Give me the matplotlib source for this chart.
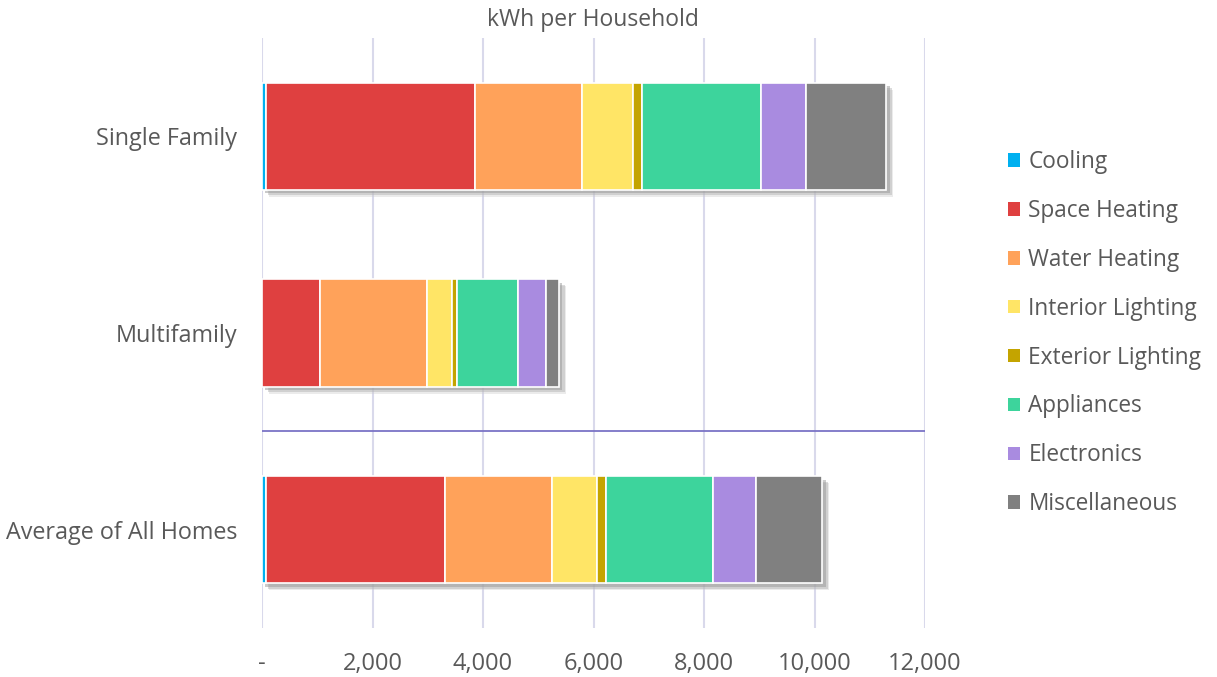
import numpy as np
import matplotlib.pyplot as plt
import matplotlib.patheffects as pe
from matplotlib.patches import Patch
from matplotlib.ticker import FuncFormatter

plt.rcParams['font.family'] = ['Open Sans', 'DejaVu Sans']

# kWh per household by end use
homes = ['Average of All Homes', 'Multifamily', 'Single Family']
end_uses = ['Cooling', 'Space Heating', 'Water Heating', 'Interior Lighting',
            'Exterior Lighting', 'Appliances', 'Electronics', 'Miscellaneous']
cooling = [72, 5, 70]
space_heating = [3234, 1045, 3780]
water_heating = [1937, 1931, 1942]
interior_lighting = [826, 464, 917]
exterior_lighting = [152, 90, 174]
appliances = [1948, 1098, 2143]
electronics = [766, 501, 820]
miscellaneous = [1206, 241, 1448]

colors = ['#00B0F0', '#DF4040', '#FFA25A', '#FFE566',
          '#C4A400', '#3DD49C', '#A98BE0', '#808080']
series = [cooling, space_heating, water_heating, interior_lighting,
          exterior_lighting, appliances, electronics, miscellaneous]

fig = plt.figure(figsize=(12.17, 6.77), dpi=100)
ax = fig.add_axes([0.2153, 0.0724, 0.5448, 0.8715])

y = np.arange(len(homes))
left = np.zeros(len(homes))
# soft drop shadow: a few stacked translucent offsets
shadow = [pe.SimplePatchShadow(offset=(5, -5), shadow_rgbFace='#c8c8c8', alpha=0.35),
          pe.SimplePatchShadow(offset=(4, -4), shadow_rgbFace='#b0b0b0', alpha=0.45),
          pe.SimplePatchShadow(offset=(2.5, -2.5), shadow_rgbFace='#999999', alpha=0.5),
          pe.Normal()]
for vals, c in zip(series, colors):
    ax.barh(y, vals, left=left, height=0.545, color=c, edgecolor='white',
            linewidth=1.2, path_effects=shadow, zorder=3)
    left += np.array(vals)

# separator between the housing types and the average
ax.axhline(0.5, color='#7B74C6', linewidth=1.3, zorder=2)

ax.set_xlim(0, 12000)
ax.set_ylim(-0.5, 2.5)
ax.set_xticks(np.arange(0, 12001, 2000))
ax.xaxis.set_major_formatter(FuncFormatter(lambda v, p: '-' if v == 0 else f'{int(v):,}'))
ax.set_yticks(y)
ax.set_yticklabels(homes)
ax.grid(axis='x', color='#D9D9EB', linewidth=1.5, zorder=0)
ax.set_axisbelow(True)
for s in ax.spines.values():
    s.set_visible(False)
ax.tick_params(axis='x', length=0, pad=17, labelsize=17, labelcolor='#595959')
ax.tick_params(axis='y', length=0, pad=18, labelsize=16.8, labelcolor='#595959')

fig.text(0.4875, 0.970, 'kWh per Household', ha='center', va='center',
         fontsize=16.5, color='#595959')

handles = [Patch(facecolor=c, edgecolor='none') for c in colors]
leg = fig.legend(handles, end_uses, loc='center left', bbox_to_anchor=(0.8115, 0.508),
                 frameon=False, fontsize=16.3, labelspacing=1.1, handlelength=0.55,
                 handleheight=0.55, handletextpad=0.35)
for t in leg.get_texts():
    t.set_color('#595959')

fig.savefig('out.png', dpi=100)
